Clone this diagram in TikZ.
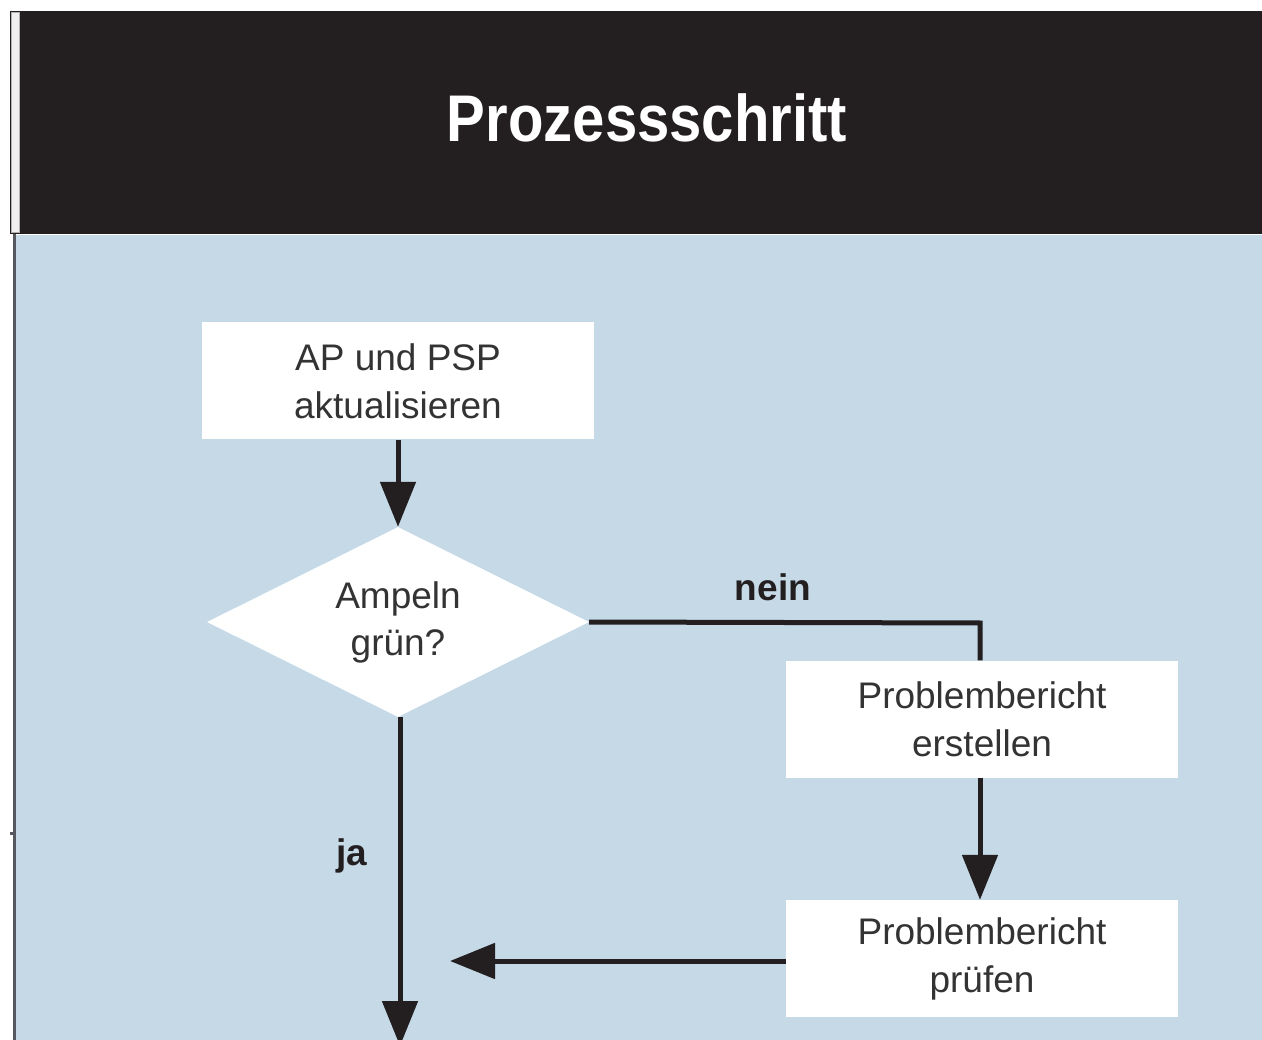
\documentclass[tikz,border=0pt]{standalone}
\usepackage{fontspec}
\setmainfont{Liberation Sans}
\newfontfamily\headfont[FakeStretch=0.88]{Liberation Sans}
\usetikzlibrary{arrows.meta,shapes.geometric}

\definecolor{headblack}{HTML}{231F20}
\definecolor{panelblue}{HTML}{C5D9E7}
\definecolor{rulegray}{HTML}{55595F}
\definecolor{textgray}{HTML}{333333}

\tikzset{
  stepbox/.style={rectangle, fill=white, draw=none, minimum width=392pt,
    minimum height=117pt, inner sep=0pt, align=center, text=textgray,
    font=\fontsize{37}{48}\selectfont},
  decision/.style={diamond, fill=white, draw=none, aspect=2, inner sep=0pt,
    minimum width=382pt, minimum height=190pt, align=center, text=textgray,
    font=\fontsize{37}{47}\selectfont},
  flow/.style={line width=5pt, draw=headblack},
  flowarrow/.style={flow, -{Triangle[length=45pt,width=35pt]}},
  answer/.style={text=headblack, font=\fontsize{37}{40}\selectfont\bfseries,
    inner sep=0pt, anchor=base}
}

\begin{document}
\begin{tikzpicture}[x=1pt,y=-1pt]
  \useasboundingbox (0,0) rectangle (1262,1040);
  \fill[white] (0,0) rectangle (1262,1040);

  % title bar
  \fill[headblack] (10,11) rectangle (1262,234);
  \fill[gray!12] (11.5,12.5) rectangle (19,232.5);
  \draw[gray!60, line width=0.8pt] (11.5,12.5) rectangle (19,232.5);
  \node[text=white, font=\headfont\bfseries\fontsize{66}{70}\selectfont,
        anchor=base, inner sep=0pt] (title) at (647,142) {Prozessschritt};

  % light panel with its left rule
  \fill[panelblue] (16,235) rectangle (1262,1040);
  \draw[rulegray, line width=3pt] (14.5,234) -- (14.5,1040);
  \draw[rulegray, line width=3pt] (10,833) -- (14.5,833);

  % flow steps
  \node[stepbox] (update) at (398,381) {AP und PSP\\aktualisieren};
  \node[decision] (check) at (398,622) {Ampeln\\grün?};
  \node[stepbox] (report) at (982,719) {Problembericht\\erstellen};
  \node[stepbox] (review) at (982,958.5) {Problembericht\\prüfen};

  \coordinate (merge) at (450,961);
  \coordinate (onward) at (400,1046);
  \coordinate (corner) at (980,623);

  % connectors
  \draw[flowarrow] (update.south) -- (check.north);
  \draw[flow] (check.east) -- (corner) -- (report.north -| corner);
  \draw[flowarrow] (report.south -| corner) -- (review.north -| corner);
  \draw[flowarrow] (review.west |- merge) -- (merge);
  \draw[flowarrow] (check.south -| onward) -- (onward);

  % branch labels
  \node[answer] (no) at (773,600) {nein};
  \node[answer] (yes) at (352,865) {ja};
\end{tikzpicture}
\end{document}
